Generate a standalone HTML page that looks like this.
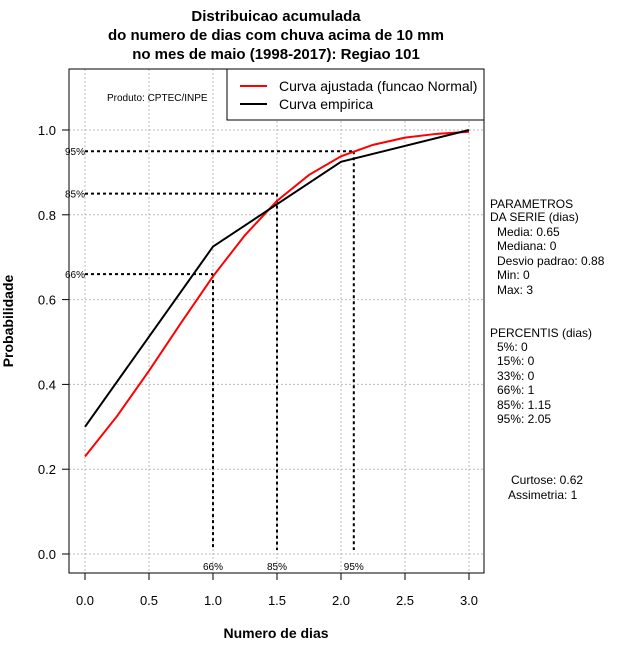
<!DOCTYPE html>
<html><head><meta charset="utf-8"><style>
body{margin:0;background:#fff}
svg{display:block;font-family:"Liberation Sans",sans-serif}
</style></head><body>
<svg id="c" width="640" height="660" viewBox="0 0 640 660">
<g id="g"></g>
</svg>
<script>
const empX=[0,1,2,3];
const empY=[0.30,0.725,0.925,1.0];
const fitX=[0,0.25,0.5,0.75,1.0,1.25,1.5,1.75,2.0,2.25,2.5,2.75,3.0];
const fitY=[0.23,0.325,0.432,0.545,0.655,0.752,0.833,0.894,0.938,0.965,0.982,0.991,0.996];
const xTicks=[0,0.5,1,1.5,2,2.5,3];
const xTickLabels=["0.0","0.5","1.0","1.5","2.0","2.5","3.0"];
const yTicks=[0,0.2,0.4,0.6,0.8,1.0];
const yTickLabels=["0.0","0.2","0.4","0.6","0.8","1.0"];
const pctProb=[0.66,0.85,0.95];
const pctX=[1.0,1.5,2.1];
const pctLabels=["66%","85%","95%"];
const sx=v=>85+v*128, sy=v=>554-v*424;
const g=document.getElementById('g');const NS='http://www.w3.org/2000/svg';
function mk(t,a,txt){const e=document.createElementNS(NS,t);for(const k in a)e.setAttribute(k,a[k]);if(txt!=null)e.textContent=txt;g.appendChild(e);return e;}
// grid
xTicks.forEach((v,i)=>{const e=mk('line',{x1:sx(v),x2:sx(v),y1:69,y2:573,stroke:'#bbb','stroke-dasharray':'2,2'});


const t=mk('line',{x1:sx(v),x2:sx(v),y1:573,y2:580,stroke:'#000'});


const l=mk('text',{x:sx(v),y:605,'text-anchor':'middle','font-size':13},xTickLabels[i]);

});
yTicks.forEach((v,i)=>{const e=mk('line',{x1:69,x2:484,y1:sy(v),y2:sy(v),stroke:'#bbb','stroke-dasharray':'2,2'});


const t=mk('line',{x1:62,x2:69,y1:sy(v),y2:sy(v),stroke:'#000'});


const l=mk('text',{x:56,y:sy(v)+5,'text-anchor':'end','font-size':13},yTickLabels[i]);

});
// percentile lines
pctProb.forEach((p,i)=>{
const h=mk('line',{x1:sx(0),x2:sx(pctX[i]),y1:sy(p),y2:sy(p),stroke:'#000','stroke-width':2,'stroke-dasharray':'3,3'});


const v=mk('line',{x1:sx(pctX[i]),x2:sx(pctX[i]),y1:sy(p),y2:550,stroke:'#000','stroke-width':2,'stroke-dasharray':'3,3'});


const a=mk('text',{x:sx(0)-20,y:sy(p)+4,'font-size':10},pctLabels[i]);


const b=mk('text',{x:sx(pctX[i]),y:570,'text-anchor':'middle','font-size':10},pctLabels[i]);

});
// series
const pf=mk('polyline',{points:fitX.map((x,i)=>sx(x)+','+sy(fitY[i])).join(' '),fill:'none',stroke:'#f00','stroke-width':2});


const pe=mk('polyline',{points:empX.map((x,i)=>sx(x)+','+sy(empY[i])).join(' '),fill:'none',stroke:'#000','stroke-width':2});


</script>
<svg style="position:absolute;left:0;top:0" width="640" height="660">
<rect x="69" y="69" width="415" height="504" fill="none" stroke="#000"/>
<g>
<rect x="227" y="69" width="257" height="51" fill="#fff" stroke="#000"/>
<line x1="240" x2="267" y1="86" y2="86" stroke="#f00" stroke-width="2"/>
<line x1="240" x2="267" y1="104" y2="104" stroke="#000" stroke-width="2"/>
<text x="279" y="91" font-size="14">Curva ajustada (funcao Normal)</text>
<text x="279" y="109" font-size="14">Curva empirica</text>
</g>
<text x="107" y="101" font-size="10">Produto: CPTEC/INPE</text>
<g font-size="15" font-weight="bold" text-anchor="middle">
<text x="276" y="21">Distribuicao acumulada</text>
<text x="276" y="40">do numero de dias com chuva acima de 10 mm</text>
<text x="276" y="59">no mes de maio (1998-2017): Regiao 101</text>
</g>
<text x="276" y="638" font-size="14" font-weight="bold" text-anchor="middle">Numero de dias</text>
<text transform="translate(13,321) rotate(-90)" font-size="14" font-weight="bold" text-anchor="middle">Probabilidade</text>
<g font-size="12">
<text x="490" y="208">PARAMETROS</text>
<text x="490" y="221">DA SERIE (dias)</text>
<text x="497" y="236">Media: 0.65</text>
<text x="497" y="250">Mediana: 0</text>
<text x="497" y="265">Desvio padrao: 0.88</text>
<text x="497" y="279">Min: 0</text>
<text x="497" y="294">Max: 3</text>
<text x="490" y="337">PERCENTIS (dias)</text>
<text x="497" y="351">5%: 0</text>
<text x="497" y="365">15%: 0</text>
<text x="497" y="380">33%: 0</text>
<text x="497" y="394">66%: 1</text>
<text x="497" y="409">85%: 1.15</text>
<text x="497" y="423">95%: 2.05</text>
<text x="511" y="484">Curtose: 0.62</text>
<text x="508" y="499">Assimetria: 1</text>
</g>
</svg>
</body></html>
